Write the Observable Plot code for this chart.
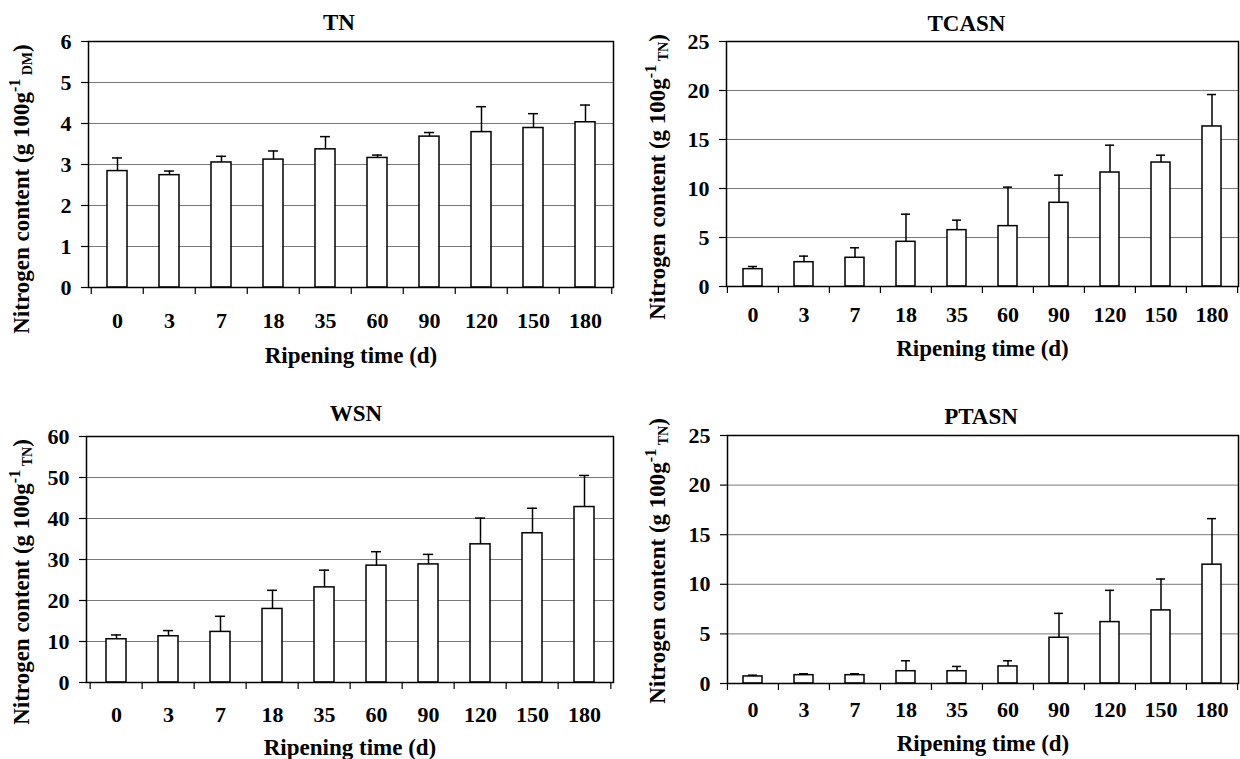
<!DOCTYPE html>
<html><head><meta charset="utf-8">
<script src="https://cdn.jsdelivr.net/npm/d3@7"></script>
<script src="https://cdn.jsdelivr.net/npm/@observablehq/plot@0.6"></script>
<style>
body{margin:0;background:#fff;}
#wrap{position:relative;width:1240px;height:759px;overflow:hidden;background:#fff;font-family:"Liberation Serif","Times New Roman",Times,"DejaVu Serif",serif;}
.panel{position:absolute;}
.panel svg, .panel svg text{font-family:"Liberation Serif","Times New Roman",Times,"DejaVu Serif",serif !important;}
</style></head><body><div id="wrap"></div>
<script>
// Categories (ripening time, days)
const ripeningDays = ["0","3","7","18","35","60","90","120","150","180"];

// Means and upper error (SD)
const tnMean    = [2.84, 2.74, 3.05, 3.12, 3.37, 3.16, 3.68, 3.79, 3.89, 4.03];
const tnSD      = [0.32, 0.10, 0.15, 0.21, 0.31, 0.07, 0.10, 0.62, 0.35, 0.42];
const tcasnMean = [1.77, 2.48, 2.93, 4.56, 5.75, 6.16, 8.54, 11.63, 12.65, 16.33];
const tcasnSD   = [0.27, 0.62, 1.02, 2.82, 1.02, 3.98, 2.82, 2.79, 0.75, 3.26];
const wsnMean   = [10.55, 11.28, 12.34, 17.94, 23.2, 28.5, 28.8, 33.7, 36.4, 42.8];
const wsnSD     = [1.05, 1.38, 3.81, 4.54, 4.2, 3.4, 2.45, 6.4, 6.1, 7.7];
const ptasnMean = [0.71, 0.84, 0.84, 1.24, 1.24, 1.72, 4.61, 6.19, 7.37, 11.98];
const ptasnSD   = [0.13, 0.14, 0.14, 1.05, 0.48, 0.57, 2.46, 3.20, 3.16, 4.64];

// Y tick labels
const yTicksTN    = [0, 1, 2, 3, 4, 5, 6];
const yTicksTCASN = [0, 5, 10, 15, 20, 25];
const yTicksWSN   = [0, 10, 20, 30, 40, 50, 60];
const yTicksPTASN = [0, 5, 10, 15, 20, 25];

const xLabel = "Ripening time (d)";
const yLabelMain = "Nitrogen content (g 100g";

const FONT = '"Liberation Serif", "Times New Roman", Times, "DejaVu Serif", serif';

const panels = [
  {title:"TN", mean:tnMean, sd:tnSD, ticks:yTicksTN, unit:"DM",
   left:0, top:0, w:620, h:380, m:[41,7,93,88], xPad:25, titleDy:-18.5, titleDx:-12, xlabDy:68, ylab:[29,189]},
  {title:"TCASN", mean:tcasnMean, sd:tcasnSD, ticks:yTicksTCASN, unit:"TN",
   left:620, top:0, w:620, h:380, m:[41,2,94,106], xPad:20, titleDy:-18.3, titleDx:-16, xlabDy:62, ylab:[45,177]},
  {title:"WSN", mean:wsnMean, sd:wsnSD, ticks:yTicksWSN, unit:"TN",
   left:0, top:380, w:620, h:379, m:[56,7,77,86], xPad:24, titleDy:-22.7, titleDx:6, xlabDy:65, ylab:[29,202]},
  {title:"PTASN", mean:ptasnMean, sd:ptasnSD, ticks:yTicksPTASN, unit:"TN",
   left:620, top:380, w:620, h:379, m:[55,2,76,107], xPad:18, titleDy:-19.2, titleDx:-2, xlabDy:60, ylab:[45,181]}
];

const wrap = document.getElementById("wrap");

for (const p of panels) {
  const data = ripeningDays.map((d, i) => ({day: d, mean: p.mean[i], hi: p.mean[i] + p.sd[i]}));
  const [mt, mr, mb, ml] = p.m;
  const step = (p.w - ml - mr) / ripeningDays.length;
  const chart = Plot.plot({
    width: p.w, height: p.h,
    marginTop: mt, marginRight: mr, marginBottom: mb, marginLeft: ml,
    style: {fontWeight: "bold", color: "black", background: "white", overflow: "visible"},
    x: {type: "band", domain: ripeningDays, paddingInner: 0.62, paddingOuter: 0.31},
    y: {domain: [0, p.ticks[p.ticks.length - 1]]},
    marks: [
      Plot.gridY(p.ticks, {stroke: "#7a7a7a", strokeOpacity: 1, strokeWidth: 1}),
      Plot.axisY(p.ticks, {tickSize: 7, tickPadding: 10, fontSize: 22, fontWeight: "bold", stroke: "black", strokeWidth: 1.2, label: null}),
      Plot.axisX({tickSize: 0, tickPadding: p.xPad, fontSize: 22, fontWeight: "bold", label: null}),
      Plot.ruleX(ripeningDays, {x: d => d, y1: 0, y2: 0, dx: -step / 2, insetBottom: -7, stroke: "black", strokeWidth: 1.2}),
      Plot.ruleX([ripeningDays[ripeningDays.length - 1]], {x: d => d, y1: 0, y2: 0, dx: step / 2, insetBottom: -7, stroke: "black", strokeWidth: 1.2}),
      Plot.barY(data, {x: "day", y: "mean", fill: "white", stroke: "black", strokeWidth: 1.5}),
      Plot.ruleX(data, {x: "day", y1: "mean", y2: "hi", stroke: "black", strokeWidth: 1.5}),
      Plot.tickY(data, {x: "day", y: "hi", stroke: "black", strokeWidth: 1.5, insetLeft: 5, insetRight: 5}),
      Plot.frame({stroke: "black", strokeWidth: 1.5}),
      Plot.text([p.title], {text: d => d, frameAnchor: "top", dy: p.titleDy, dx: p.titleDx, lineAnchor: "middle", fontSize: 23, fontWeight: "bold", fill: "black"}),
      Plot.text([xLabel], {text: d => d, frameAnchor: "bottom", dy: p.xlabDy, lineAnchor: "middle", fontSize: 23, fontWeight: "bold", fill: "black"})
    ]
  });

  // rotated y-axis label with superscript and subscript
  const svg = d3.select(chart);
  const t = svg.append("text")
    .attr("transform", `translate(${p.ylab[0]},${p.ylab[1]}) rotate(-90)`)
    .attr("text-anchor", "middle")
    .attr("font-size", 23)
    .attr("font-weight", "bold")
    .attr("fill", "black");
  t.append("tspan").text(yLabelMain);
  t.append("tspan").attr("font-size", 16).attr("dy", -9).text("-1");
  t.append("tspan").attr("font-size", 14).attr("dy", 12).text("\u00a0" + p.unit);
  t.append("tspan").attr("dy", -3).text(")");

  const div = document.createElement("div");
  div.className = "panel";
  div.style.left = p.left + "px";
  div.style.top = p.top + "px";
  div.appendChild(chart);
  wrap.appendChild(div);
}
</script>
</body></html>
